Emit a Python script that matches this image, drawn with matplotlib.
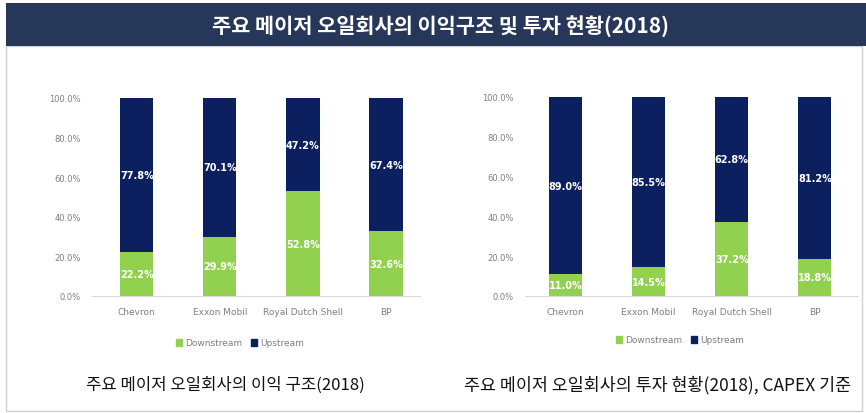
import numpy as np
import matplotlib.pyplot as plt
from matplotlib.patches import Rectangle, Patch

plt.rcParams['font.family'] = ['Noto Sans CJK KR', 'DejaVu Sans']

companies = ["Chevron", "Exxon Mobil", "Royal Dutch Shell", "BP"]
profit_down = [22.2, 29.9, 52.8, 32.6]
profit_up = [77.8, 70.1, 47.2, 67.4]
capex_down = [11.0, 14.5, 37.2, 18.8]
capex_up = [89.0, 85.5, 62.8, 81.2]
yticks = [0, 20, 40, 60, 80, 100]

title = "주요 메이저 오일회사의 이익구조 및 투자 현황(2018)"
cap_left = "주요 메이저 오일회사의 이익 구조(2018)"
cap_right = "주요 메이저 오일회사의 투자 현황(2018), CAPEX 기준"

GREEN = "#92d050"
NAVY = "#0c1f5e"
BANNER = "#26375a"
GRAY = "#7f7f7f"

W, H = 866, 414
fig = plt.figure(figsize=(W / 100, H / 100), dpi=100)
fig.patch.set_facecolor("white")


def fx(px):
    return px / W


def fy(py):
    return 1 - py / H


# banner + frame
fig.add_artist(Rectangle((fx(6), fy(412)), fx(856), fy(47) - fy(412),
                         transform=fig.transFigure, facecolor="none",
                         edgecolor="#d0d0d0", lw=1))
fig.add_artist(Rectangle((fx(6), fy(47)), fx(860), fy(4) - fy(47),
                         transform=fig.transFigure, facecolor=BANNER,
                         edgecolor="none"))
fig.text(fx(441), fy(26), title, color="white", fontsize=15, fontweight="bold",
         ha="center", va="center")


def draw(rect, xlim, down, up, legend_xy, caption, cap_x, cap_size):
    ax = fig.add_axes(rect)
    x = np.arange(len(companies))
    d = np.array(down) / 100
    u = np.array(up) / 100
    ax.bar(x, d, width=0.4, color=GREEN, zorder=2)
    ax.bar(x, u, width=0.4, bottom=d, color=NAVY, zorder=2)
    for xi, di, ui in zip(x, down, up):
        ax.text(xi, di / 200, f"{di:.1f}%", color="white", fontsize=7,
                fontweight="bold", ha="center", va="center",
                family=["DejaVu Sans"])
        ax.text(xi, di / 100 + ui / 200, f"{ui:.1f}%", color="white",
                fontsize=7, fontweight="bold", ha="center", va="center",
                family=["DejaVu Sans"])
    ax.set_xlim(*xlim)
    ax.set_ylim(0, 1)
    ax.set_yticks([t / 100 for t in yticks])
    ax.set_yticklabels([f"{t:.1f}%" for t in yticks], color=GRAY, fontsize=6,
                       family=["DejaVu Sans"])
    ax.set_xticks(x)
    ax.set_xticklabels(companies, color=GRAY, fontsize=6.5,
                       family=["DejaVu Sans"])
    ax.tick_params(length=0, pad=8)
    for s in ["top", "right", "left"]:
        ax.spines[s].set_visible(False)
    ax.spines["bottom"].set_color("#d9d9d9")
    handles = [Patch(color=GREEN, label="Downstream"),
               Patch(color=NAVY, label="Upstream")]
    leg = fig.legend(handles=handles, loc="center",
                     bbox_to_anchor=legend_xy, ncol=2, frameon=False,
                     handlelength=0.7, handleheight=0.7,
                     handletextpad=0.3, columnspacing=1.0,
                     prop={"family": ["DejaVu Sans"], "size": 6.5})
    for t in leg.get_texts():
        t.set_color(GRAY)
    fig.text(cap_x, fy(385), caption, fontsize=cap_size, ha="center",
             va="center", color="#111111")


draw([fx(92), fy(297), fx(420) - fx(92), fy(99) - fy(297)],
     (-0.54, 3.41), profit_down, profit_up, (fx(240), fy(344)),
     cap_left, fx(225), 12)
draw([fx(525), fy(297), fx(858) - fx(525), fy(98) - fy(297)],
     (-0.49, 3.52), capex_down, capex_up, (fx(680), fy(341)),
     cap_right, fx(658), 12.5)

fig.savefig("out.png", dpi=100)
